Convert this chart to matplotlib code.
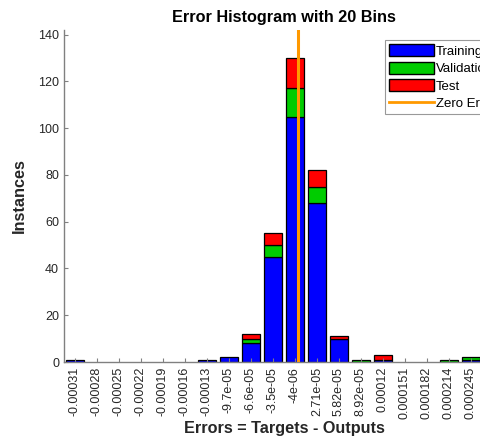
import numpy as np
import matplotlib
matplotlib.use("Agg")
import matplotlib.pyplot as plt
from matplotlib.patches import Patch
from matplotlib.lines import Line2D

plt.rcParams['font.family'] = ['Liberation Sans', 'DejaVu Sans']

bin_labels = ['-0.00031', '-0.00028', '-0.00025', '-0.00022', '-0.00019', '-0.00016',
              '-0.00013', '-9.7e-05', '-6.6e-05', '-3.5e-05', '-4e-06', '2.71e-05',
              '5.82e-05', '8.92e-05', '0.00012', '0.000151', '0.000182', '0.000214',
              '0.000245', '0.000276']
bin_centers = [float(s) for s in bin_labels]
training   = [1, 0, 0, 0, 0, 0, 1, 2, 8, 45, 105, 68, 10, 0, 1, 0, 0, 0, 1, 0]
validation = [0, 0, 0, 0, 0, 0, 0, 0, 2, 5, 12, 7, 0, 1, 0, 0, 0, 1, 1, 0]
test       = [0, 0, 0, 0, 0, 0, 0, 0, 2, 5, 13, 7, 1, 0, 2, 0, 0, 0, 0, 0]
zero_error = 0.0

W, H = 481, 448
fig = plt.figure(figsize=(W / 100, H / 100), dpi=100)
ax = fig.add_axes([64 / W, 1 - 362 / H, 440 / W, 332 / H])

idx = np.arange(len(bin_labels))
tr = np.array(training)
va = np.array(validation)
te = np.array(test)
blue, green, red, orange = '#0000ff', '#00cc00', '#ff0000', '#ff9900'
kw = dict(width=0.8, edgecolor='black', linewidth=0.9)


def stacked(heights, bottoms, color):
    m = heights > 0
    ax.bar(idx[m], heights[m], bottom=bottoms[m], color=color, **kw)


stacked(tr, np.zeros_like(tr), blue)
stacked(va, tr, green)
stacked(te, tr + va, red)

zx = np.interp(zero_error, bin_centers, idx)
ax.axvline(zx, color=orange, linewidth=2.2, zorder=5)

ax.set_xlim(-0.5, len(bin_labels) - 0.5)
ax.set_ylim(0, 142)
ax.set_yticks(np.arange(0, 141, 20))
ax.set_xticks(idx)
ax.set_xticklabels(bin_labels, rotation=90)

gray = '#262626'
for s in ['top', 'right']:
    ax.spines[s].set_visible(False)
for s in ['left', 'bottom']:
    ax.spines[s].set_color('#808080')
    ax.spines[s].set_linewidth(1.0)
ax.tick_params(direction='in', length=3, color='#808080', labelsize=9, labelcolor=gray)

ax.set_title('Error Histogram with 20 Bins', fontsize=11.7, fontweight='bold', color='black', pad=6)
ax.set_xlabel('Errors = Targets - Outputs', fontsize=11.7, fontweight='bold', color=gray, labelpad=1)
ax.set_ylabel('Instances', fontsize=11.7, fontweight='bold', color=gray, labelpad=8)

handles = [Patch(facecolor=blue, edgecolor='black'),
           Patch(facecolor=green, edgecolor='black'),
           Patch(facecolor=red, edgecolor='black'),
           Line2D([0], [0], color=orange, linewidth=2)]
labels = ['Training', 'Validation', 'Test', 'Zero Error']
leg = ax.legend(handles, labels, loc='upper left',
                bbox_to_anchor=((385 - 64) / 440, 1 - (40 - 30) / 332),
                fontsize=9.5, frameon=True, fancybox=False, edgecolor='#808080',
                handlelength=3.4, handleheight=1.05, handletextpad=0.15,
                labelspacing=0.3, borderpad=0.3, borderaxespad=0)
leg.get_frame().set_linewidth(0.8)

fig.savefig('out.png', dpi=100)
